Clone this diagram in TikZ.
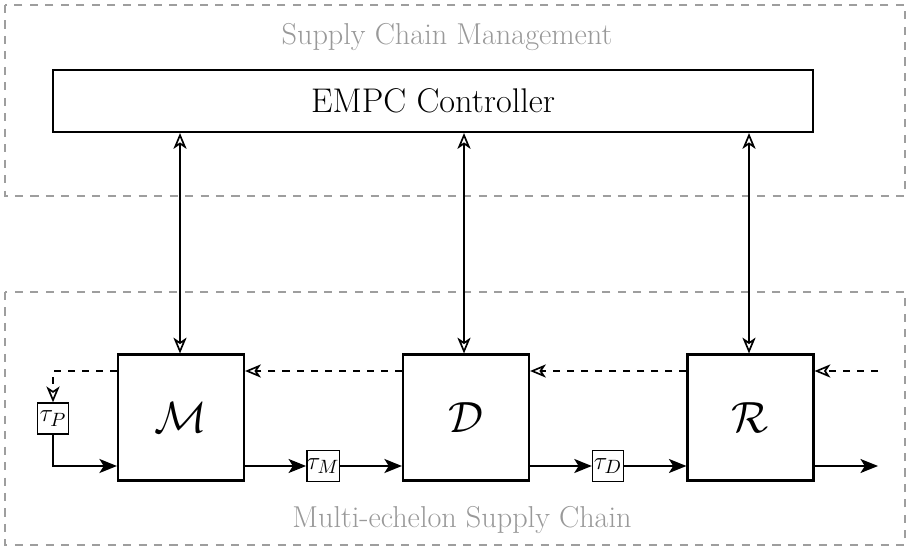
\documentclass[tikz,border=0pt]{standalone}
\usetikzlibrary{arrows.meta}
\begin{document}
\begin{tikzpicture}[x=0.02cm,y=-0.02cm,
  region/.style={draw=black!38,line width=1.1pt,dash pattern=on 4.6pt off 4.2pt},
  regiontitle/.style={text=black!40,font=\fontsize{17.2}{20}\selectfont},
  ctrl/.style={draw,line width=1.2pt,minimum width=760*0.02cm,minimum height=62*0.02cm,inner sep=0pt,font=\fontsize{19.5}{22}\selectfont},
  stage/.style={draw,line width=1.2pt,minimum size=126*0.02cm,inner sep=0pt,font=\fontsize{32}{34}\selectfont},
  delay/.style={draw,line width=0.8pt,minimum size=31*0.02cm,inner sep=0pt,font=\fontsize{15}{17}\selectfont},
  flow/.style={line width=0.95pt,-{Stealth[length=10pt,width=8pt,inset=2.5pt]}},
  info/.style={line width=0.95pt,dash pattern=on 4pt off 4pt,-{Stealth[open,length=9pt,width=7.5pt,inset=2.5pt]}},
  link/.style={line width=0.95pt,{Stealth[open,length=9pt,width=7.5pt,inset=2.5pt]}-{Stealth[open,length=9pt,width=7.5pt,inset=2.5pt]}}]
\useasboundingbox (0,0) rectangle (908,550);
% management and supply chain regions
\draw[region] (5,5) rectangle (905,196);
\draw[region] (5,292) rectangle (905,545);
\node[regiontitle] (mgmt) at (447,37) {Supply Chain Management};
\node[regiontitle] (chain) at (462,520) {Multi-echelon Supply Chain};
% controller
\node[ctrl] (empc) at (433,101) {EMPC Controller};
% echelons
\node[stage] (M) at (181,417.5) {$\mathcal{M}$};
\node[stage] (D) at (466,417.5) {$\mathcal{D}$};
\node[stage] (R) at (750.5,417.5) {$\mathcal{R}$};
% transport delays
\node[delay] (tP) at (53,418.5) {$\tau_P$};
\node[delay] (tM) at (323,466) {$\tau_M$};
\node[delay] (tD) at (608,466) {$\tau_D$};
% controller links
\draw[link] (M.north -| 180,0) -- (empc.south -| 180,0);
\draw[link] (D.north -| 464,0) -- (empc.south -| 464,0);
\draw[link] (R.north -| 749,0) -- (empc.south -| 749,0);
% information flow (orders, upstream)
\coordinate (dem) at (878,371);
\draw[info] (dem) -- (R.east |- dem);
\draw[info] (R.west |- dem) -- (D.east |- dem);
\draw[info] (D.west |- dem) -- (M.east |- dem);
\draw[info] (M.west |- dem) -| (tP.north);
% material flow (downstream)
\coordinate (out) at (878,466);
\draw[flow] (tP.south) |- (M.west |- tM);
\draw[flow] (M.east |- tM) -- (tM.west);
\draw[flow] (tM.east) -- (D.west |- tM);
\draw[flow] (D.east |- tD) -- (tD.west);
\draw[flow] (tD.east) -- (R.west |- tD);
\draw[flow] (R.east |- tD) -- (out);
\end{tikzpicture}
\end{document}
